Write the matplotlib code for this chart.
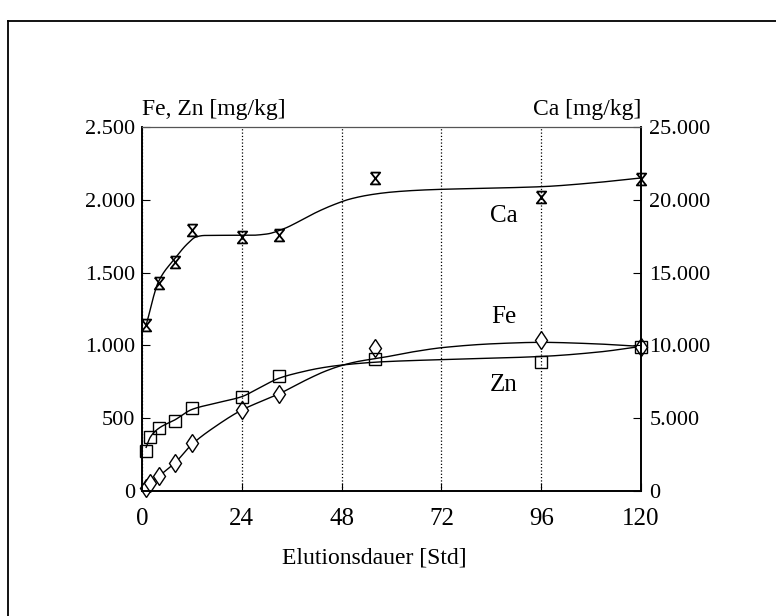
import matplotlib
matplotlib.use('Agg')
import matplotlib.pyplot as plt
from matplotlib.lines import Line2D
from matplotlib.ticker import FuncFormatter
import numpy as np

plt.rcParams['font.family'] = ['Liberation Serif', 'DejaVu Serif']

# measured samples
hours_ca = [1, 4, 8, 12, 24, 33, 56, 96, 120]
ca = [11400, 14300, 15700, 17900, 17450, 17600, 21500, 20200, 21450]

hours = [1, 2, 4, 8, 12, 24, 33, 56, 96, 120]
fe = [20, 55, 103, 192, 330, 556, 666, 982, 1037, 989]
zn = [275, 371, 433, 481, 570, 646, 790, 907, 886, 989]

# fitted curves as drawn in the original
ca_curve_x = [1, 4, 8, 11, 13, 15, 20, 26, 30, 34, 38, 42, 46, 50, 55, 60, 66, 72, 84, 96, 108, 120]
ca_curve = [11400, 14400, 16000, 17000, 17450, 17550, 17560, 17560, 17650, 18000, 18550, 19150, 19650,
            20050, 20350, 20530, 20650, 20720, 20800, 20900, 21150, 21500]
fe_curve_x = [1, 2, 4, 8, 12, 18, 24, 33, 40, 44, 48, 52, 57.5, 65, 72.6, 85, 96, 108, 120]
fe_curve = [20, 50, 100, 195, 320, 450, 556, 668, 770, 822, 862, 890, 915, 955, 986, 1012, 1021, 1012, 993]
zn_curve_x = [1, 2, 4, 8, 12, 18, 24, 28, 33, 38, 43, 48, 57.5, 72.6, 96, 110, 120]
zn_curve = [300, 370, 430, 490, 560, 605, 648, 705, 775, 815, 845, 865, 887, 903, 924, 955, 993]

x_ticks = [0, 24, 48, 72, 96, 120]
left_ticks = [0, 500, 1000, 1500, 2000, 2500]
right_ticks = [0, 5000, 10000, 15000, 20000, 25000]


def pchip(x, y, xs):
    # monotone cubic hermite, only used to draw a smooth line through the knots
    x = np.asarray(x, float)
    y = np.asarray(y, float)
    h = np.diff(x)
    d = np.diff(y) / h
    m = np.zeros_like(y)
    m[0], m[-1] = d[0], d[-1]
    for k in range(1, len(x) - 1):
        if d[k - 1] * d[k] > 0:
            w1 = 2 * h[k] + h[k - 1]
            w2 = h[k] + 2 * h[k - 1]
            m[k] = (w1 + w2) / (w1 / d[k - 1] + w2 / d[k])
    idx = np.clip(np.searchsorted(x, xs) - 1, 0, len(x) - 2)
    t = (xs - x[idx]) / h[idx]
    h00 = 2 * t**3 - 3 * t**2 + 1
    h10 = t**3 - 2 * t**2 + t
    h01 = -2 * t**3 + 3 * t**2
    h11 = t**3 - t**2
    return h00 * y[idx] + h10 * h[idx] * m[idx] + h01 * y[idx + 1] + h11 * h[idx] * m[idx + 1]


def german(v, pos):
    return f'{int(v):,}'.replace(',', '.')


hourglass = [(-0.8, 1), (0.8, 1), (-0.8, -1), (0.8, -1), (-0.8, 1)]

fig = plt.figure(figsize=(7.76, 6.16), dpi=100)
ax = fig.add_axes([142 / 776, 1 - 491 / 616, 499 / 776, 364 / 616])
ax2 = ax.twinx()

xs_fe = np.linspace(fe_curve_x[0], fe_curve_x[-1], 400)
xs_zn = np.linspace(zn_curve_x[0], zn_curve_x[-1], 400)
xs_ca = np.linspace(ca_curve_x[0], ca_curve_x[-1], 400)

ax.plot(xs_fe, pchip(fe_curve_x, fe_curve, xs_fe), color='black', lw=1.0)
ax.plot(xs_zn, pchip(zn_curve_x, zn_curve, xs_zn), color='black', lw=1.0)
ax.plot(hours, fe, linestyle='none', marker='d', ms=9.5, mfc='white', mec='black', mew=1.0, clip_on=False)
ax.plot(hours, zn, linestyle='none', marker='s', ms=8.5, mfc='none', mec='black', mew=1.0, clip_on=False)

ax2.plot(xs_ca, pchip(ca_curve_x, ca_curve, xs_ca), color='black', lw=1.0)
ax2.plot(hours_ca, ca, linestyle='none', marker=hourglass, ms=8.5, mfc='none', mec='black', mew=1.3, clip_on=False)

ax.set_xlim(0, 120)
ax.set_ylim(0, 2500)
ax2.set_ylim(0, 25000)
ax.set_xticks(x_ticks)
ax.set_yticks(left_ticks)
ax2.set_yticks(right_ticks)
ax.yaxis.set_major_formatter(FuncFormatter(german))
ax2.yaxis.set_major_formatter(FuncFormatter(german))

ax.grid(axis='x', linestyle=':', color='black', lw=0.9)
ax.tick_params(axis='x', direction='in', length=6, labelsize=18, pad=12)
ax.tick_params(axis='y', direction='in', length=6, labelsize=16, pad=5)
ax2.tick_params(axis='y', direction='in', length=6, labelsize=16, pad=6)
for a in (ax, ax2):
    for s in a.spines.values():
        s.set_linewidth(1.2)
ax2.spines['top'].set_color('#555555')
ax2.spines['top'].set_linewidth(0.9)
ax.spines['top'].set_visible(False)

ax.set_xlabel('Elutionsdauer [Std]', fontsize=17)
ax.xaxis.set_label_coords(0.465, -0.155)

ax.text(0.0, 1.02, 'Fe, Zn [mg/kg]', transform=ax.transAxes, fontsize=17, ha='left', va='bottom')
ax.text(1.0, 1.02, 'Ca [mg/kg]', transform=ax.transAxes, fontsize=17, ha='right', va='bottom')

ax.text(87, 1889, 'Ca', fontsize=18, ha='center', va='center')
ax.text(87, 1195, 'Fe', fontsize=18, ha='center', va='center')
ax.text(87, 728, 'Zn', fontsize=18, ha='center', va='center')

# page frame from the scan
fig.add_artist(Line2D([8 / 776, 1], [1 - 21 / 616, 1 - 21 / 616], transform=fig.transFigure, color='black', lw=1.3))
fig.add_artist(Line2D([8 / 776, 8 / 776], [0, 1 - 21 / 616], transform=fig.transFigure, color='black', lw=1.3))

fig.savefig('out.png', dpi=100)
